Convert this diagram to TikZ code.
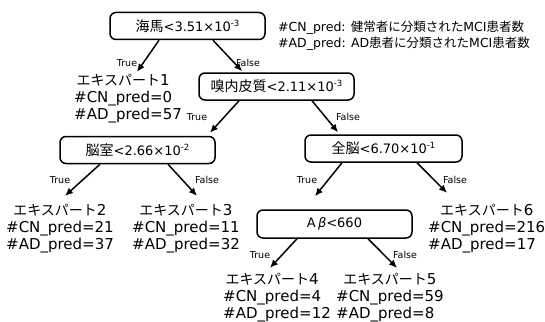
\documentclass[tikz,border=0pt]{standalone}
\usepackage{fontspec}
\setmainfont{DejaVu Sans}
\newfontfamily\jp{Noto Sans CJK JP}
\usetikzlibrary{arrows.meta,calc}
\newcommand\leaftext[3]{\setbox0=\hbox{\#CN\_pred=#2}%
\begin{tabular}[t]{@{}l@{}}\hbox to \wd0{\hss{\jp\fontsize{14}{17}\selectfont エキスパート}#1\hss}\\\box0\\\#AD\_pred=#3\end{tabular}}
\newcommand\sci[1]{\raisebox{0.4em}{\fontsize{8.5}{9}\selectfont #1}}
\tikzset{
  decision/.style={draw, line width=1.5pt, rounded corners=6pt, minimum width=155pt, minimum height=27pt, inner sep=0pt, font=\fontsize{13}{16}\selectfont},
  leafbox/.style={anchor=base west, inner sep=0pt, font=\fontsize{15}{17}\selectfont},
  edgelabel/.style={inner sep=0pt, font=\fontsize{9.5}{10}\selectfont},
  arr/.style={line width=1.5pt, -{Latex[length=8pt,width=7pt]}},
}
\begin{document}
\begin{tikzpicture}[x=1pt,y=-1pt]
\useasboundingbox (0,0) rectangle (545,321);
% decision nodes
\node[decision] (root) at (187.5,26) {{\jp\fontsize{14}{16}\selectfont 海馬}<3.51×10\sci{-3}};
\node[decision] (n2) at (276.5,86.5) {{\jp\fontsize{14}{16}\selectfont 嗅内皮質}<2.11×10\sci{-3}};
\node[decision] (n3) at (137.5,150) {{\jp\fontsize{14}{16}\selectfont 脳室}<2.66×10\sci{-2}};
\node[decision, minimum width=157pt] (n4) at (383.5,148.5) {{\jp\fontsize{14}{16}\selectfont 全脳}<6.70×10\sci{-1}};
\node[decision, minimum height=28pt] (n5) at (334.5,224) {A\,{\itshape β}<660};
% leaves
\node[leafbox] (l1) at (74,85) {\leaftext{1}{0}{57}};
\node[leafbox] (l2) at (6,215) {\leaftext{2}{21}{37}};
\node[leafbox] (l3) at (132,215) {\leaftext{3}{11}{32}};
\node[leafbox] (l4) at (223,284) {\leaftext{4}{4}{12}};
\node[leafbox] (l5) at (336,284) {\leaftext{5}{59}{8}};
\node[leafbox] (l6) at (428,215) {\leaftext{6}{216}{17}};
% legend
\node[anchor=base west, inner sep=0pt, font=\fontsize{12.5}{16}\selectfont] (legend) at (278,31.5)
  {\begin{tabular}[t]{@{}l@{}}\#CN\_pred: {\jp 健常者に分類された}MCI{\jp 患者数}\\\#AD\_pred: AD{\jp 患者に分類された}MCI{\jp 患者数}\end{tabular}};
% arrows
\draw[arr] ($(root.south)+(-28.5,0)$) -- ($(l1.north west)+(63,-1)$);
\draw[arr] ($(root.south)+(25.5,0)$) -- ($(n2.north west)+(44,-1)$);
\draw[arr] ($(n2.south)+(-37.5,0)$) -- ($(n3.north)+(72.5,-3)$);
\draw[arr] ($(n2.south)+(35.5,0)$) -- ($(n4.north)+(-45.5,-2)$);
\draw[arr] ($(n3.south)+(-37.5,0)$) -- ($(l2.north west)+(59,-7)$);
\draw[arr] ($(n3.south)+(30.5,0)$) -- ($(l3.north west)+(65,-7)$);
\draw[arr] ($(n4.south)+(-41.5,0)$) -- ($(n5.north)+(-19.5,-13)$);
\draw[arr] ($(n4.south)+(33.5,0)$) -- ($(l6.north west)+(19,-10)$);
\draw[arr] ($(n5.south)+(-37.5,0)$) -- ($(l4.north west)+(47,-4)$);
\draw[arr] ($(n5.south)+(33.5,0)$) -- ($(l5.north west)+(61,-4)$);
% edge labels
\node[edgelabel] (t1) at (127,63) {True};
\node[edgelabel] (f1) at (248,63) {False};
\node[edgelabel] (t2) at (197,117) {True};
\node[edgelabel] (f2) at (348,117) {False};
\node[edgelabel] (t3) at (60,180) {True};
\node[edgelabel] (f3) at (207,180) {False};
\node[edgelabel] (t4) at (307,180) {True};
\node[edgelabel] (f4) at (455,180) {False};
\node[edgelabel] (t5) at (260,255) {True};
\node[edgelabel] (f5) at (405,255) {False};
\end{tikzpicture}
\end{document}
